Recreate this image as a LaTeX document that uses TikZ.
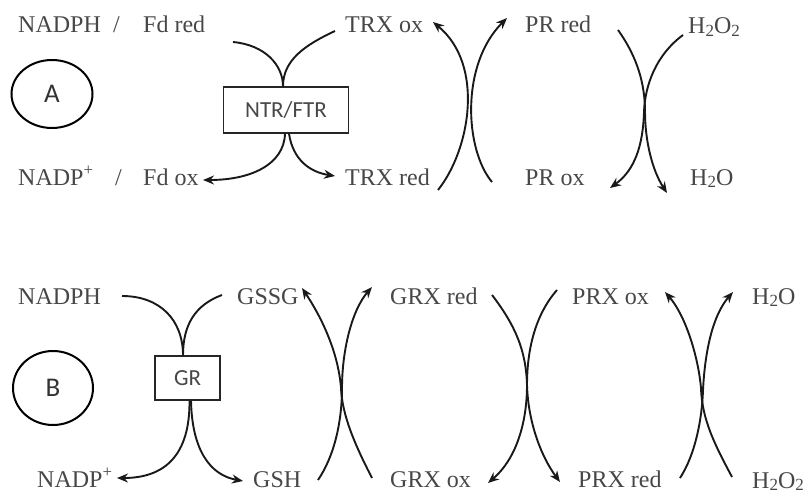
\documentclass[tikz,border=0pt]{standalone}
\usepackage{fontspec}
\setmainfont{Liberation Serif}
\newfontfamily\enzfont{Carlito}
\usetikzlibrary{arrows.meta,shapes.geometric}
\definecolor{txtgray}{HTML}{474747}
\newcommand\subtwo{\raisebox{-0.12em}{\fontsize{17}{17}\selectfont 2}}

\begin{document}
\begin{tikzpicture}[x=1pt,y=-1pt,
  lbl/.style={anchor=base west,inner sep=0pt,text=txtgray,font=\fontsize{24}{28}\selectfont},
  enz/.style={draw=black!85,line width=1.3pt,inner sep=0pt,text=txtgray,font=\enzfont\fontsize{23}{26}\selectfont},
  tag/.style={draw=black,ellipse,line width=2pt,inner sep=0pt,text=black!80,font=\enzfont\fontsize{27}{30}\selectfont},
  flow/.style={line width=1.9pt,black!90},
  tip/.style={-{Stealth[length=11pt,width=9pt]}}]
\useasboundingbox (0,0) rectangle (810,497);

% ---------- panel A ----------
\node[lbl] (nadphA) at (18,33) {NADPH};
\node[lbl] (slA1) at (113,33) {/};
\node[lbl] (fdred) at (143,33) {Fd red};
\node[lbl] (trxox) at (345,33) {TRX ox};
\node[lbl] (prred) at (525,33) {PR red};
\node[lbl] (hhooA) at (688,34) {H\subtwo O\subtwo};
\node[lbl] (nadpA) at (18,185) {NADP\textsuperscript{+}};
\node[lbl] (slA2) at (115,185) {/};
\node[lbl] (fdox) at (143,185) {Fd ox};
\node[lbl] (trxred) at (345,185) {TRX red};
\node[lbl] (prox) at (525,185) {PR ox};
\node[lbl] (hhoA) at (690,185) {H\subtwo O};

\node[tag,minimum width=81pt,minimum height=68pt] (tagA) at (52,94) {A};
\node[enz,minimum width=125pt,minimum height=46pt] (ntr) at (286,110) {NTR/FTR};

\coordinate (a1) at (233,42);
\coordinate (a2) at (335,31);
\coordinate (a3) at (203,180);
\coordinate (a4) at (335,176);
\draw[flow] (a1) .. controls (265,45) and (283,65) .. ([xshift=-3pt]ntr.north);
\draw[flow] (a2) .. controls (305,45) and (283,60) .. ([xshift=-3pt]ntr.north);
\draw[flow,tip] ([xshift=-1pt]ntr.south) .. controls (284,165) and (250,180) .. (a3);
\draw[flow,tip] ([xshift=3pt]ntr.south) .. controls (293,160) and (310,172) .. (a4);

% TRX / PR exchange
\coordinate (b1) at (438,190);
\coordinate (b2) at (433,22);
\coordinate (b3) at (492,182);
\coordinate (b4) at (507,18);
\draw[flow,tip] (b1) .. controls (470,150) and (485,65) .. (b2);
\draw[flow,tip] (b3) .. controls (465,150) and (460,65) .. (b4);

% PR / H2O2 exchange
\coordinate (c1) at (618,30);
\coordinate (c2) at (667,193);
\coordinate (c3) at (683,35);
\coordinate (c4) at (610,188);
\draw[flow,tip] (c1) .. controls (638,58) and (645,85) .. (645,112)
                    .. controls (645,140) and (652,170) .. (c2);
\draw[flow,tip] (c3) .. controls (656,55) and (645,85) .. (644,112)
                    .. controls (643,145) and (635,170) .. (c4);

% ---------- panel B ----------
\node[lbl] (nadphB) at (18,304) {NADPH};
\node[lbl] (gssg) at (237,304) {GSSG};
\node[lbl] (grxred) at (390,304) {GRX red};
\node[lbl] (prxox) at (572,304) {PRX ox};
\node[lbl] (hhoB) at (752,304) {H\subtwo O};
\node[lbl] (nadpB) at (37,487) {NADP\textsuperscript{+}};
\node[lbl] (gsh) at (253,487) {GSH};
\node[lbl] (grxox) at (390,487) {GRX ox};
\node[lbl] (prxred) at (578,487) {PRX red};
\node[lbl] (hhooB) at (752,488) {H\subtwo O\subtwo};

\node[tag,minimum width=80pt,minimum height=74pt] (tagB) at (53,388) {B};
\node[enz,minimum width=65pt,minimum height=44pt] (gr) at (187.5,378) {GR};

\coordinate (d1) at (122,296);
\coordinate (d2) at (222,295);
\coordinate (d3) at (117,478);
\coordinate (d4) at (243,481);
\draw[flow] (d1) .. controls (160,296) and (183,320) .. ([xshift=-4.5pt]gr.north);
\draw[flow] (d2) .. controls (195,305) and (183,325) .. ([xshift=-4.5pt]gr.north);
\draw[flow,tip] ([xshift=2pt]gr.south) .. controls (190,455) and (165,478) .. (d3);
\draw[flow,tip] ([xshift=3.5pt]gr.south) .. controls (192,450) and (210,475) .. (d4);

% GSSG / GRX exchange
\coordinate (e1) at (318,480);
\coordinate (e2) at (372,287);
\coordinate (e3) at (372,478);
\coordinate (e4) at (302,288);
\draw[flow,tip] (e1) .. controls (335,455) and (342,420) .. (342,388)
                    .. controls (342,350) and (352,310) .. (e2);
\draw[flow,tip] (e3) .. controls (355,445) and (342,415) .. (341,388)
                    .. controls (338,350) and (320,315) .. (e4);

% GRX / PRX exchange
\coordinate (f1) at (492,295);
\coordinate (f2) at (560,482);
\coordinate (f3) at (557,290);
\coordinate (f4) at (488,483);
\draw[flow,tip] (f1) .. controls (515,325) and (526,350) .. (527,385)
                    .. controls (528,420) and (540,455) .. (f2);
\draw[flow,tip] (f3) .. controls (535,315) and (527,350) .. (527,385)
                    .. controls (527,425) and (515,460) .. (f4);

% PRX / H2O exchange
\coordinate (g1) at (732,477);
\coordinate (g2) at (665,292);
\coordinate (g3) at (680,478);
\coordinate (g4) at (733,292);
\draw[flow,tip] (g1) .. controls (715,445) and (702,420) .. (701,388)
                    .. controls (698,355) and (685,315) .. (g2);
\draw[flow,tip] (g3) .. controls (695,455) and (702,420) .. (703,390)
                    .. controls (705,350) and (713,315) .. (g4);
\end{tikzpicture}
\end{document}
